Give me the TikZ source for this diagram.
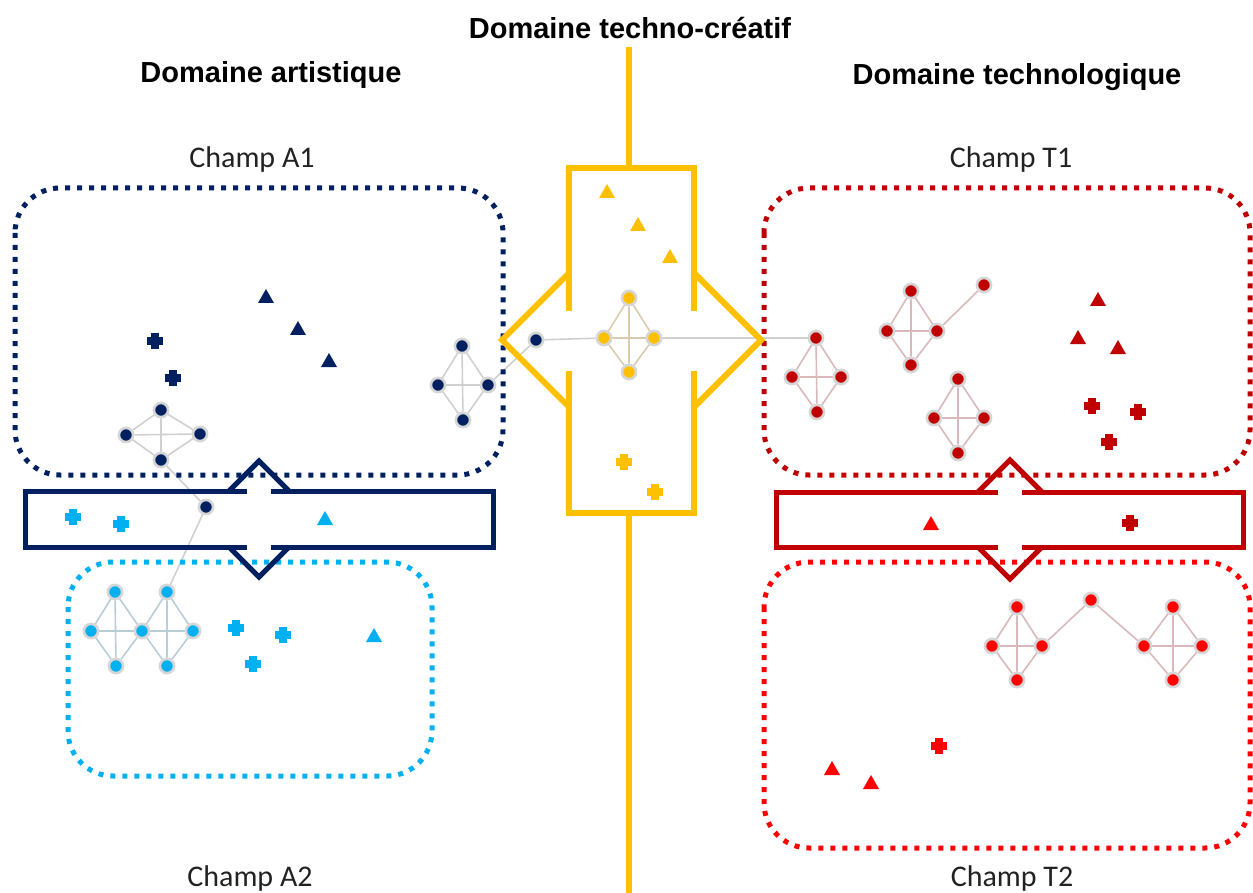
\documentclass[tikz,border=0pt]{standalone}
\usepackage{fontspec}
\setmainfont{Liberation Sans}
\newfontfamily\champfont{Carlito}
\usetikzlibrary{backgrounds}
\definecolor{navy}{HTML}{002060}
\definecolor{lblue}{HTML}{00B0F0}
\definecolor{dred}{HTML}{C00000}
\definecolor{bred}{HTML}{FF0000}
\definecolor{gold}{HTML}{FFC000}
\definecolor{ringc}{HTML}{D6D6D6}
\definecolor{egray}{HTML}{D0D0D0}
\definecolor{eyel}{HTML}{D9CCAE}
\definecolor{ered}{HTML}{D9B9B9}
\definecolor{eblue}{HTML}{B9CDD6}
\definecolor{champtext}{HTML}{222222}
\tikzset{
  nd/.style={circle, draw=ringc, line width=2.6pt, minimum size=14.2pt, inner sep=0pt, fill=#1},
  ed/.style={draw=#1, line width=1.6pt},
  dotbox/.style={draw=#1, line width=5pt, dash pattern=on 5pt off 7pt, rounded corners=45pt},
  band/.style={draw=#1, line width=5pt},
  ttl/.style={font=\fontsize{29}{34}\selectfont\bfseries, inner sep=0pt},
  champ/.style={font=\champfont\fontsize{30}{36}\selectfont, text=champtext, inner sep=0pt},
  tri/.pic={\fill (-8,6) -- (8,6) -- (0,-8) -- cycle;},
  pls/.pic={\fill (-7.8,-3.6) rectangle (7.8,3.6); \fill (-3.6,-7.8) rectangle (3.6,7.8);}
}
\begin{document}
\begin{tikzpicture}[x=1pt,y=-1pt]
\useasboundingbox (0,0) rectangle (1253,893);

% titles
\node[ttl] (tc) at (630,28) {Domaine techno-créatif};
\node[ttl] (ta) at (271,75) {Domaine artistique};
\node[ttl] (tt) at (1017,77) {Domaine technologique};
\node[champ] (ca1) at (252,160) {Champ A1};
\node[champ] (ct1) at (1011,160) {Champ T1};
\node[champ] (ca2) at (250,878) {Champ A2};
\node[champ] (ct2) at (1012,878) {Champ T2};

% dotted field boxes
\draw[dotbox=navy] (15,188) rectangle (503,475);
\draw[dotbox=lblue] (68,562) rectangle (432,776);
\draw[dotbox=dred] (764,188) rectangle (1250,475);
\draw[dotbox=bred] (764,562) rectangle (1250,848);

% central techno-creative shape
\draw[band=gold, line width=6pt] (629,47) -- (629,168);
\draw[band=gold, line width=6pt] (629,513) -- (629,893);
\draw[band=gold, line width=6pt] (569,311) -- (569,168) -- (694,168) -- (694,311);
\draw[band=gold, line width=6pt] (694,371) -- (694,513) -- (569,513) -- (569,371);
\draw[band=gold, line width=6pt] (570,272) -- (502,340) -- (570,408);
\draw[band=gold, line width=6pt] (693,272) -- (761,340) -- (693,408);

% artistic band
\draw[band=navy] (247,491) -- (25,491) -- (25,547) -- (247,547);
\draw[band=navy] (271,547) -- (493,547) -- (493,491) -- (271,491);
\draw[band=navy] (229,491) -- (259,461) -- (289,491);
\draw[band=navy] (229,547) -- (259,577) -- (289,547);

% technological band
\draw[band=dred] (998,492) -- (776,492) -- (776,547) -- (998,547);
\draw[band=dred] (1022,547) -- (1243,547) -- (1243,492) -- (1022,492);
\draw[band=dred] (978,492) -- (1010,460) -- (1042,492);
\draw[band=dred] (978,547) -- (1010,579) -- (1042,547);

% markers
\path[color=navy] (266,297) pic {tri} (298,329) pic {tri} (329,361) pic {tri}
  (155,341) pic {pls} (173,378) pic {pls};
\path[color=lblue] (73,517) pic {pls} (121,524) pic {pls} (325,519) pic {tri}
  (236,628) pic {pls} (283,635) pic {pls} (253,664) pic {pls} (374,636) pic {tri};
\path[color=gold] (607,192) pic {tri} (638,225) pic {tri} (670,257) pic {tri}
  (624,462) pic {pls} (655,492) pic {pls};
\path[color=dred] (1098,300) pic {tri} (1078,338) pic {tri} (1118,348) pic {tri}
  (1092,406) pic {pls} (1138,412) pic {pls} (1109,442) pic {pls};
\path[color=bred] (931,524) pic {tri} (832,769) pic {tri} (871,783) pic {tri} (939,746) pic {pls};
\path[color=dred] (1130,523) pic {pls};

% network nodes
\node[nd=navy] (n1t) at (462,346) {};
\node[nd=navy] (n1l) at (438,385) {};
\node[nd=navy] (n1r) at (488,385) {};
\node[nd=navy] (n1b) at (463,420) {};
\node[nd=navy] (nx) at (536,340) {};
\node[nd=navy] (n2t) at (161,410) {};
\node[nd=navy] (n2l) at (126,435) {};
\node[nd=navy] (n2r) at (200,434) {};
\node[nd=navy] (n2b) at (161,460) {};
\node[nd=navy] (nb) at (206,507) {};

\node[nd=lblue] (b1t) at (115,592) {};
\node[nd=lblue] (b1l) at (91,631) {};
\node[nd=lblue] (bc) at (142,631) {};
\node[nd=lblue] (b1b) at (116,666) {};
\node[nd=lblue] (b2t) at (167,592) {};
\node[nd=lblue] (b2r) at (193,631) {};
\node[nd=lblue] (b2b) at (167,666) {};

\node[nd=gold] (yt) at (629,298) {};
\node[nd=gold] (yl) at (604,338) {};
\node[nd=gold] (yr) at (654,338) {};
\node[nd=gold] (yb) at (629,372) {};

\node[nd=dred] (r1t) at (816,338) {};
\node[nd=dred] (r1l) at (792,377) {};
\node[nd=dred] (r1r) at (841,377) {};
\node[nd=dred] (r1b) at (817,412) {};
\node[nd=dred] (r2t) at (911,291) {};
\node[nd=dred] (r2l) at (887,331) {};
\node[nd=dred] (r2r) at (937,331) {};
\node[nd=dred] (r2b) at (911,365) {};
\node[nd=dred] (r2x) at (984,285) {};
\node[nd=dred] (r3t) at (958,379) {};
\node[nd=dred] (r3l) at (934,418) {};
\node[nd=dred] (r3r) at (984,418) {};
\node[nd=dred] (r3b) at (958,453) {};

\node[nd=bred] (s1t) at (1017,607) {};
\node[nd=bred] (s1l) at (992,646) {};
\node[nd=bred] (s1r) at (1042,646) {};
\node[nd=bred] (s1b) at (1017,680) {};
\node[nd=bred] (sm) at (1091,600) {};
\node[nd=bred] (s2t) at (1173,607) {};
\node[nd=bred] (s2l) at (1144,646) {};
\node[nd=bred] (s2r) at (1202,646) {};
\node[nd=bred] (s2b) at (1173,680) {};

% edges
\begin{scope}[on background layer]
\foreach \p/\c in {n1/egray, n2/egray, y/eyel, r1/ered, r2/ered, r3/ered, s1/ered, s2/ered} {
  \draw[ed=\c] (\p t) -- (\p l) -- (\p b) -- (\p r) -- (\p t) -- (\p b);
  \draw[ed=\c] (\p l) -- (\p r);
}
\draw[ed=eblue] (b1t) -- (b1l) -- (b1b) -- (bc) -- (b1t) -- (b1b);
\draw[ed=eblue] (b1l) -- (bc);
\draw[ed=eblue] (b2t) -- (bc) -- (b2b) -- (b2r) -- (b2t) -- (b2b);
\draw[ed=eblue] (bc) -- (b2r);
\draw[ed=egray] (n1r) -- (nx) -- (yl);
\draw[ed=egray] (yr) -- (r1t);
\draw[ed=egray] (n2b) -- (nb) -- (b2t);
\draw[ed=ered] (r2r) -- (r2x);
\draw[ed=ered] (s1r) -- (sm) -- (s2l);
\end{scope}
\end{tikzpicture}
\end{document}
